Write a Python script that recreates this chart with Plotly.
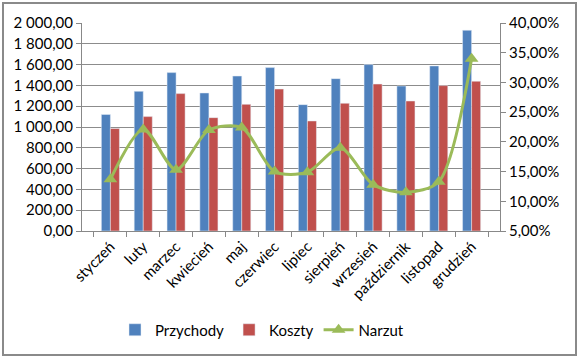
import plotly.graph_objects as go

months = ["styczeń", "luty", "marzec", "kwiecień", "maj", "czerwiec", "lipiec",
          "sierpień", "wrzesień", "październik", "listopad", "grudzień"]
przychody = [1120, 1343, 1523, 1327, 1490, 1571, 1215, 1465, 1600, 1394, 1587, 1930]
koszty = [985, 1100, 1321, 1090, 1218, 1365, 1058, 1228, 1413, 1250, 1398, 1440]
narzut = [13.7, 22.1, 15.3, 22.0, 22.4, 15.0, 14.9, 19.0, 12.8, 11.5, 13.3, 34.0]

left_ticks = list(range(0, 2001, 200))
left_text = [f"{v:,}".replace(",", " ") + ",00" for v in left_ticks]
right_ticks = [5, 10, 15, 20, 25, 30, 35, 40]
right_text = [f"{v},00%" for v in right_ticks]

FONT = "Lato"
fig = go.Figure()
fig.add_trace(go.Bar(x=months, y=przychody, name="Przychody", marker_color="#4F81BD"))
fig.add_trace(go.Bar(x=months, y=koszty, name="Koszty", marker_color="#C0504D"))
fig.add_trace(go.Scatter(x=months, y=narzut, name="Narzut", yaxis="y2",
                         mode="lines+markers", line=dict(color="#9BBB59", width=3, shape="spline", smoothing=0.8),
                         marker=dict(symbol="triangle-up", size=12, color="#9BBB59")))

L, R, T, B = 82, 80, 23, 131
W, H = 580, 362
pw, ph = W - L - R, H - T - B

fig.update_layout(
    width=W, height=H,
    margin=dict(l=L, r=R, t=T, b=B, autoexpand=False),
    paper_bgcolor="white", plot_bgcolor="white",
    font=dict(family=FONT, size=15, color="#000000"),
    barmode="group", bargap=0.45, bargroupgap=0,
    showlegend=True,
    legend=dict(orientation="h", x=(262 - L) / pw, xanchor="center",
                y=(H - B - 330) / ph, yanchor="middle",
                font=dict(family=FONT, size=15), traceorder="normal"),
    xaxis=dict(type="category", tickangle=-45, showgrid=False, automargin=False,
               showline=True, linecolor="#888888", linewidth=1,
               ticks="outside", tickson="boundaries", ticklen=5, tickcolor="#888888"),
    yaxis=dict(range=[0, 2000], tickvals=left_ticks, ticktext=left_text, automargin=False,
               showgrid=True, gridcolor="#8c8c8c", gridwidth=1,
               showline=True, linecolor="#888888", ticks="outside", ticklen=5,
               tickcolor="#888888", zeroline=False),
    yaxis2=dict(range=[5, 40], tickvals=right_ticks, ticktext=right_text, automargin=False,
                overlaying="y", side="right", showgrid=False,
                showline=True, linecolor="#888888", ticks="outside", ticklen=5,
                tickcolor="#888888", zeroline=False),
)

fig.add_shape(type="rect", xref="paper", yref="paper",
              x0=(3 - L) / pw, x1=(576 - L) / pw,
              y0=(H - B - 355) / ph, y1=(H - B - 3) / ph,
              line=dict(color="#8a8a8a", width=2), layer="below")

fig.write_html("out.html", config={"displayModeBar": False},
               post_script="document.body.style.margin='0';")
